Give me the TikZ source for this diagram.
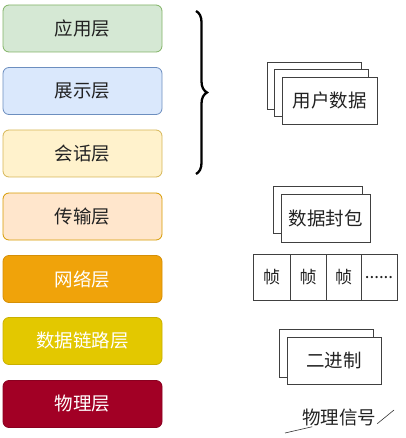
\documentclass[tikz,border=0pt]{standalone}
\usepackage{fontspec}
\newfontfamily\cjk{Noto Sans CJK SC}
\usetikzlibrary{decorations.pathreplacing}
\definecolor{gfill}{HTML}{D5E8D4}\definecolor{gdraw}{HTML}{82B366}
\definecolor{bfill}{HTML}{DAE8FC}\definecolor{bdraw}{HTML}{6C8EBF}
\definecolor{yfill}{HTML}{FFF2CC}\definecolor{ydraw}{HTML}{D6B656}
\definecolor{ofill}{HTML}{FFE6CC}\definecolor{odraw}{HTML}{D79B00}
\definecolor{nfill}{HTML}{F0A30A}\definecolor{ndraw}{HTML}{D58F06}
\definecolor{dfill}{HTML}{E3C800}\definecolor{ddraw}{HTML}{C9B000}
\definecolor{pfill}{HTML}{A20025}\definecolor{pdraw}{HTML}{8A0020}
\definecolor{txt}{HTML}{222222}
\tikzset{
  layer/.style={draw, rounded corners=6pt, minimum width=159pt, minimum height=47pt, line width=0.8pt, font=\cjk\fontsize{18.5}{22}\selectfont, text=txt},
  sheet/.style={draw=black!75, fill=white, line width=0.8pt, font=\cjk\fontsize{18.5}{22}\selectfont, text=txt},
  cell/.style={draw=black!75, fill=white, line width=0.8pt, minimum width=36pt, minimum height=46pt, font=\cjk\fontsize{17}{20}\selectfont, text=txt},
}
\begin{document}
\begin{tikzpicture}[x=1pt,y=-1pt]
\useasboundingbox (0,0) rectangle (405,438);
% layers
\node[layer, fill=gfill, draw=gdraw] (app) at (82.5,28.5) {应用层};
\node[layer, fill=bfill, draw=bdraw] (pres) at (82.5,91) {展示层};
\node[layer, fill=yfill, draw=ydraw] (sess) at (82.5,153.5) {会话层};
\node[layer, fill=ofill, draw=odraw] (trans) at (82.5,216.5) {传输层};
\node[layer, fill=nfill, draw=ndraw, text=white] (net) at (82.5,279) {网络层};
\node[layer, fill=dfill, draw=ddraw, text=white] (link) at (82.5,341) {数据链路层};
\node[layer, fill=pfill, draw=pdraw, text=white] (phy) at (82.5,404) {物理层};
% brace
\coordinate (bt) at (196,11);
\coordinate (bb) at (196,174);
\draw[line width=2.3pt, decorate, decoration={brace, amplitude=11pt}] (bt) -- (bb);
% user data
\node[sheet, minimum width=94pt, minimum height=47pt] (ud1) at (314,85.5) {};
\node[sheet, minimum width=94pt, minimum height=47pt] (ud2) at (321,92.5) {};
\node[sheet, minimum width=95pt, minimum height=47pt] (ud3) at (329.5,100.5) {用户数据};
% packet
\node[sheet, minimum width=89pt, minimum height=47pt] (pk1) at (317.5,209.5) {};
\node[sheet, minimum width=89pt, minimum height=48pt] (pk2) at (325.5,218) {数据封包};
% frames
\node[cell, minimum width=37pt] (f1) at (271.5,277) {帧};
\node[cell] (f2) at (308,277) {帧};
\node[cell, minimum width=35pt] (f3) at (343.5,277) {帧};
\node[cell] (f4) at (379,277) {\raisebox{-4pt}{......}};
% binary
\node[sheet, minimum width=94pt, minimum height=48pt] (bn1) at (326,353) {};
\node[sheet, minimum width=94pt, minimum height=47pt] (bn2) at (334,360.5) {二进制};
% physical signal
\coordinate (sl) at (285,433);
\coordinate (sr) at (394,410);
\node[font=\cjk\fontsize{18.5}{22}\selectfont, text=txt, inner sep=1pt] (sig) at (339,417) {物理信号};
\draw[black!80, line width=0.6pt] (sl) -- (sig.200);
\draw[black!80, line width=0.6pt] (sig.-10) -- (sr);
\end{tikzpicture}
\end{document}
